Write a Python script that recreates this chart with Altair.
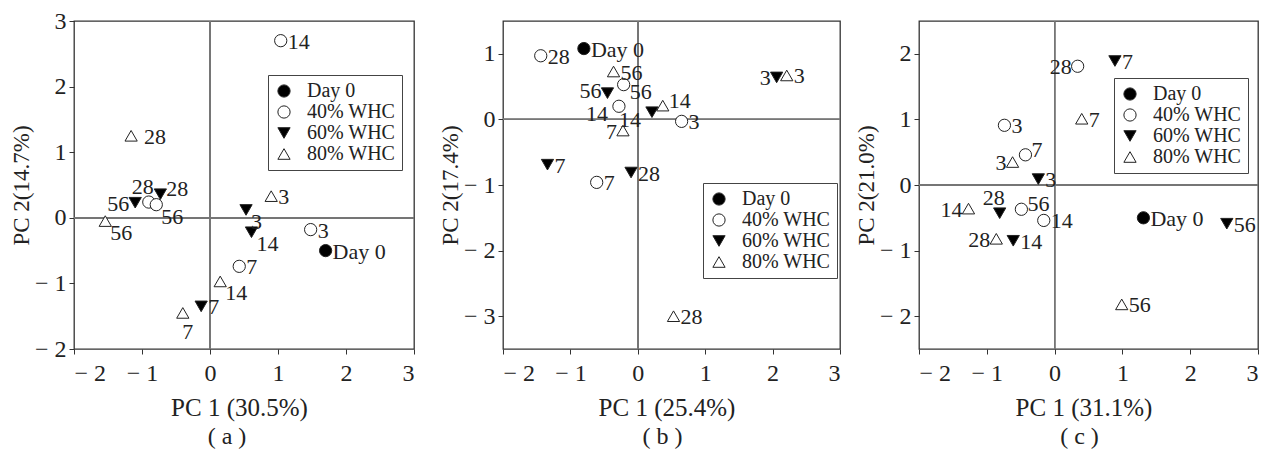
import altair as alt
import pandas as pd

groups_order = ["Day 0", "40% WHC", "60% WHC", "80% WHC"]
shape_range = ["circle", "circle", "triangle-down", "triangle-up"]
fill_range = ["black", "white", "black", "white"]

# Panel (a)
a_group = ["Day 0", "40% WHC", "40% WHC", "40% WHC", "40% WHC", "40% WHC",
           "60% WHC", "60% WHC", "60% WHC", "60% WHC", "60% WHC",
           "80% WHC", "80% WHC", "80% WHC", "80% WHC", "80% WHC"]
a_pc1 = [1.70, 1.04, -0.90, -0.79, 1.48, 0.43,
         -0.73, -1.10, 0.53, 0.61, -0.13,
         -1.16, -1.54, 0.90, 0.15, -0.40]
a_pc2 = [-0.50, 2.70, 0.24, 0.20, -0.18, -0.74,
         0.36, 0.23, 0.12, -0.22, -1.35,
         1.25, -0.05, 0.33, -0.97, -1.45]
a_label = ["Day 0", "14", "28", "56", "3", "7",
           "28", "56", "3", "14", "7",
           "28", "56", "3", "14", "7"]
a_anchor = ["r", "r", "a", "br", "r", "r",
            "ru", "l", "br", "br", "r",
            "rw", "br", "r", "br", "b"]

# Panel (b)
b_group = ["Day 0", "40% WHC", "40% WHC", "40% WHC", "40% WHC", "40% WHC",
           "60% WHC", "60% WHC", "60% WHC", "60% WHC", "60% WHC",
           "80% WHC", "80% WHC", "80% WHC", "80% WHC", "80% WHC"]
b_pc1 = [-0.80, -1.44, -0.21, -0.28, 0.65, -0.61,
         -0.45, 0.21, -1.34, -0.10, 2.06,
         -0.36, 0.37, -0.22, 2.21, 0.53]
b_pc2 = [1.08, 0.97, 0.53, 0.20, -0.03, -0.96,
         0.40, 0.11, -0.69, -0.81, 0.64,
         0.73, 0.21, -0.17, 0.67, -3.00]
b_label = ["Day 0", "28", "56", "14", "3", "7",
           "56", "14", "7", "28", "3",
           "56", "14", "7", "3", "28"]
b_anchor = ["r", "r", "rd", "bl", "r", "r",
            "lu", "bl", "r", "r", "l",
            "r", "ru", "l", "r", "r"]

# Panel (c)
c_group = ["Day 0", "40% WHC", "40% WHC", "40% WHC", "40% WHC", "40% WHC",
           "60% WHC", "60% WHC", "60% WHC", "60% WHC", "60% WHC",
           "80% WHC", "80% WHC", "80% WHC", "80% WHC", "80% WHC"]
c_pc1 = [1.31, 0.34, -0.74, -0.43, -0.49, -0.16,
         0.89, -0.24, -0.81, -0.61, 2.54,
         0.40, -0.62, -1.27, -0.86, 0.99]
c_pc2 = [-0.50, 1.81, 0.91, 0.46, -0.37, -0.54,
         1.89, 0.09, -0.43, -0.85, -0.59,
         1.01, 0.35, -0.36, -0.82, -1.82]
c_label = ["Day 0", "28", "3", "7", "56", "14",
           "7", "3", "28", "14", "56",
           "7", "3", "14", "28", "56"]
c_anchor = ["r", "l", "r", "ru", "ru", "r",
            "r", "r", "a", "r", "r",
            "r", "l", "l", "l", "r"]

FONT = "Liberation Serif"
INK = "#222222"

ANCHORS = {
    "r": dict(align="left", baseline="middle", dx=7, dy=1),
    "rw": dict(align="left", baseline="middle", dx=13, dy=1),
    "ru": dict(align="left", baseline="middle", dx=6, dy=-5),
    "rd": dict(align="left", baseline="middle", dx=6, dy=7),
    "l": dict(align="right", baseline="middle", dx=-6, dy=1),
    "lu": dict(align="right", baseline="middle", dx=-6, dy=-2),
    "a": dict(align="center", baseline="bottom", dx=-6, dy=-3),
    "br": dict(align="left", baseline="middle", dx=5, dy=12),
    "bl": dict(align="right", baseline="middle", dx=-11, dy=8),
    "b": dict(align="center", baseline="top", dx=5, dy=9),
}

LEG = dict(title=None, orient="none", symbolStrokeColor=INK, symbolStrokeWidth=1)


def panel(group, pc1, pc2, label, anchor, ydom, yticks, xtitle, ytitle, caption,
          cap_dx, lx, ly, w, h):
    df = pd.DataFrame({"group": group, "pc1": pc1, "pc2": pc2,
                       "label": label, "anchor": anchor})
    base = alt.Chart(df)
    xs = alt.Scale(domain=[-2, 3], nice=False, zero=False)
    ys = alt.Scale(domain=ydom, nice=False, zero=False)
    lab_expr = "datum.value < 0 ? '\u2212 ' + format(-datum.value, 'd') : datum.label"
    xaxis = alt.Axis(values=[-2, -1, 0, 1, 2, 3], title=xtitle, labelExpr=lab_expr,
                     titleX=w / 2 - 5)
    yaxis = alt.Axis(values=yticks, title=ytitle, labelExpr=lab_expr)

    vline = base.mark_rule(color="#777777", strokeWidth=1).encode(
        x=alt.datum(0, scale=xs, axis=xaxis, type="quantitative"))
    hline = base.mark_rule(color="#777777", strokeWidth=1).encode(
        y=alt.datum(0, scale=ys, axis=yaxis, type="quantitative"))

    leg = alt.Legend(legendX=lx, legendY=ly, **LEG)
    pts = base.mark_point(filled=False, opacity=1, strokeWidth=1, size=150).encode(
        x=alt.X("pc1:Q", scale=xs, axis=xaxis),
        y=alt.Y("pc2:Q", scale=ys, axis=yaxis),
        shape=alt.Shape("group:N", scale=alt.Scale(domain=groups_order, range=shape_range),
                        legend=leg),
        fill=alt.Fill("group:N", scale=alt.Scale(domain=groups_order, range=fill_range),
                      legend=leg),
        stroke=alt.Stroke("group:N", scale=alt.Scale(domain=groups_order, range=[INK] * 4),
                          legend=leg),
    )

    layers = [vline, hline, pts]
    for key, opts in ANCHORS.items():
        if key not in anchor:
            continue
        layers.append(
            base.transform_filter(alt.datum.anchor == key).mark_text(
                font=FONT, fontSize=22, color=INK, **opts).encode(
                x=alt.X("pc1:Q", scale=xs, axis=xaxis),
                y=alt.Y("pc2:Q", scale=ys, axis=yaxis),
                text="label:N")
        )
    return alt.layer(*layers).properties(
        width=w, height=h,
        title=alt.TitleParams(caption, orient="bottom", font=FONT, fontSize=24,
                              fontWeight="normal", color=INK, offset=5, dx=cap_dx),
    )


pa = panel(a_group, a_pc1, a_pc2, a_label, a_anchor, [-2, 3], [-2, -1, 0, 1, 2, 3],
           "PC 1 (30.5%)", "PC 2(14.7%)", "( a )", -17, 194, 54, 340, 328)
pb = panel(b_group, b_pc1, b_pc2, b_label, b_anchor, [-3.5, 1.5], [-3, -2, -1, 0, 1],
           "PC 1 (25.4%)", "PC 2(17.4%)", "( b )", -9, 200, 162, 337, 328)
pc = panel(c_group, c_pc1, c_pc2, c_label, c_anchor, [-2.5, 2.5], [-2, -1, 0, 1, 2],
           "PC 1 (31.1%)", "PC 2(21.0%)", "( c )", -9, 195, 57, 339, 328)

RES = dict(shape="independent", fill="independent", stroke="independent")

inner = alt.hconcat(pb, pc, spacing=79, bounds="flush").resolve_scale(
    x="independent", y="independent", **RES
).resolve_legend(**RES)

chart = alt.hconcat(pa, inner, spacing=89, bounds="flush").resolve_scale(
    x="independent", y="independent", **RES
).resolve_legend(**RES).properties(
    padding={"left": 1, "top": 0, "right": 2, "bottom": 2}
).configure(font=FONT).configure_view(
    stroke="#333333", strokeWidth=1.3
).configure_axis(
    domain=False, grid=False, ticks=True, tickSize=5, tickColor="#333333",
    labelFont=FONT, labelFontSize=24, labelColor=INK,
    titleFont=FONT, titleFontWeight="normal", titleColor=INK,
    labelAngle=0,
).configure_axisX(titlePadding=10, labelPadding=7, titleFontSize=25).configure_axisY(
    titlePadding=1, labelPadding=3, titleFontSize=23
).configure_legend(
    strokeColor="#444444", padding=6, labelFont=FONT, labelFontSize=20, labelColor=INK,
    symbolSize=150, rowPadding=1, labelOffset=13, fillColor="white", symbolOpacity=1,
)

chart.save("out.html", embed_options={"renderer": "svg", "actions": False})
